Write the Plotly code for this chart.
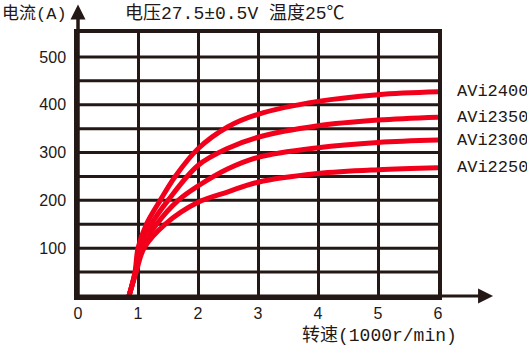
import plotly.graph_objects as go

series_names = ["AVi2400", "AVi2350", "AVi2300", "AVi2250"]
x_2400 = [0.85, 0.95, 1.0, 1.14, 1.37, 1.62, 2.0, 2.5, 3.0, 4.0, 5.0, 6.0]
y_2400 = [0, 50, 100, 150, 200, 250, 308, 354, 380, 407, 421, 427]
x_2350 = [0.85, 0.955, 1.03, 1.22, 1.5, 2.0, 2.5, 3.0, 4.0, 5.0, 6.0]
y_2350 = [0, 50, 100, 150, 200, 273, 309, 332, 356, 368, 374]
x_2300 = [0.85, 0.96, 1.06, 1.31, 1.67, 2.0, 2.5, 3.0, 4.0, 5.0, 6.0]
y_2300 = [0, 50, 100, 150, 200, 230, 266, 290, 310, 321, 326]
x_2250 = [0.85, 0.97, 1.1, 1.45, 2.0, 2.5, 3.0, 4.0, 5.0, 6.0]
y_2250 = [0, 50, 100, 150, 196, 218, 238, 256, 264, 268]
x_ticks = [0, 1, 2, 3, 4, 5, 6]
y_ticks = [100, 200, 300, 400, 500]
y_grid = [50, 100, 150, 200, 250, 300, 350, 400, 450, 500]

INK = "#231815"
RED = "#f2001b"
MONO = "Liberation Mono, Noto Sans CJK SC"
NUM = "Liberation Sans"

fig = go.Figure()
xs = [x_2400, x_2350, x_2300, x_2250]
ys = [y_2400, y_2350, y_2300, y_2250]
for name, xv, yv in zip(series_names, xs, ys):
    fig.add_trace(go.Scatter(x=xv, y=yv, mode="lines", name=name,
                             line=dict(color=RED, width=5, shape="spline", smoothing=1.0),
                             showlegend=False, hoverinfo="skip"))
    fig.add_annotation(x=1.047, xref="paper", y=yv[-1], yref="y", text=name,
                       showarrow=False, xanchor="left", yanchor="middle",
                       font=dict(family=MONO, size=17, color=INK))

for gv in y_grid:
    fig.add_shape(type="line", xref="paper", yref="y", x0=0, x1=1, y0=gv, y1=gv,
                  layer="below", line=dict(color=INK, width=3))

fig.update_layout(
    width=527, height=345,
    margin=dict(l=78, r=89, t=33, b=49),
    paper_bgcolor="white", plot_bgcolor="white",
    xaxis=dict(range=[0, 6], tickvals=x_ticks, ticktext=[str(v) for v in x_ticks],
               showgrid=True, gridcolor=INK, gridwidth=3, zeroline=False,
               showline=True, linecolor=INK, linewidth=3.5, mirror=True,
               ticks="", tickfont=dict(family=NUM, size=16, color=INK), ticklabelstandoff=0),
    yaxis=dict(range=[0, 550], tickvals=y_ticks, ticktext=[str(v) for v in y_ticks],
               showgrid=False, zeroline=False,
               showline=True, linecolor=INK, linewidth=3.5, mirror=True,
               ticks="", tickfont=dict(family=NUM, size=16, color=INK), ticklabelstandoff=5),
)

# axis extensions with arrows
fig.add_shape(type="line", xref="paper", yref="paper", x0=0, y0=0, x1=1.13, y1=0,
              line=dict(color=INK, width=3))
fig.add_shape(type="line", xref="paper", yref="paper", x0=0, y0=0, x1=0, y1=1.08,
              line=dict(color=INK, width=3.5))
fig.add_annotation(xref="paper", yref="paper", x=1.153, y=0, ax=-16, ay=0, text="",
                   showarrow=True, arrowhead=2, arrowsize=1.2, arrowwidth=2.5, arrowcolor=INK)
fig.add_annotation(xref="paper", yref="paper", x=0, y=1.108, ax=0, ay=16, text="",
                   showarrow=True, arrowhead=2, arrowsize=1.2, arrowwidth=2.5, arrowcolor=INK)

fig.add_annotation(xref="paper", yref="paper", x=-78/360, y=1 + 19/263, text="电流(A)",
                   showarrow=False, xanchor="left", yanchor="middle",
                   font=dict(family=MONO, size=17, color=INK))
fig.add_annotation(xref="paper", yref="paper", x=(123-78)/360, y=1 + 19/263,
                   text="电压27.5±0.5V 温度25℃",
                   showarrow=False, xanchor="left", yanchor="middle",
                   font=dict(family=MONO, size=18, color=INK))
fig.add_annotation(xref="paper", yref="paper", x=(300-78)/360, y=-39/263,
                   text="转速(1000r/min)",
                   showarrow=False, xanchor="left", yanchor="middle",
                   font=dict(family=MONO, size=18, color=INK))

fig.write_html("out.html")
